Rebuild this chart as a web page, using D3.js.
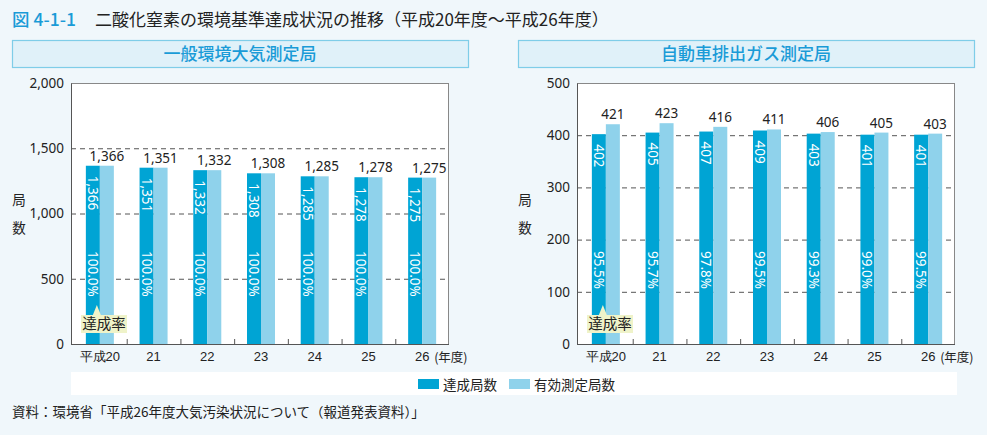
<!DOCTYPE html>
<html><head><meta charset="utf-8">
<script src="https://cdn.jsdelivr.net/npm/d3@7"></script>
<style>
body{margin:0;background:#f0f7fb;}
svg{display:block;font-family:"Noto Sans CJK JP","Noto Sans",sans-serif;}
</style></head>
<body><svg id="c" width="987" height="435"></svg>
<script>
const categories = ["平成20","21","22","23","24","25","26"];
const generalAchieved = [1366,1351,1332,1308,1285,1278,1275];
const generalValid = [1366,1351,1332,1308,1285,1278,1275];
const generalRate = ["100.0%","100.0%","100.0%","100.0%","100.0%","100.0%","100.0%"];
const roadAchieved = [402,405,407,409,403,401,401];
const roadValid = [421,423,416,411,406,405,403];
const roadRate = ["95.5%","95.7%","97.8%","99.5%","99.3%","99.0%","99.5%"];
const generalTicks = [0,500,1000,1500,2000];
const roadTicks = [0,100,200,300,400,500];
const seriesNames = ["達成局数","有効測定局数"];

const DARK="#00a4d4", LIGHT="#8fd2eb", BLUE="#1a9bd7";
const svg=d3.select("#c");
const fmt=d3.format(",");

// title
const t=svg.append("text").attr("x",12).attr("y",26).attr("font-size",17.5);
t.append("tspan").attr("fill",BLUE).attr("font-weight",500).text("図 4-1-1");
t.append("tspan").attr("x",95).attr("fill","#222").attr("font-size",17).text("二酸化窒素の環境基準達成状況の推移（平成20年度～平成26年度）");

function panel(ox, title, achieved, valid, rate, ticks, ymax){
  // header
  svg.append("rect").attr("x",ox+12.5).attr("y",40.5).attr("width",456).attr("height",27)
    .attr("fill","#e0f1f9").attr("stroke","#7fcde8").attr("stroke-width",1.2);
  svg.append("text").attr("x",ox+240).attr("y",60).attr("text-anchor","middle")
    .attr("font-size",17).attr("font-weight",500).attr("fill",BLUE).text(title);
  const left=ox+71, right=ox+449, top=83, bottom=344;
  svg.append("rect").attr("x",left).attr("y",top).attr("width",right-left).attr("height",bottom-top).attr("fill","#fff");
  const x=d3.scaleBand().domain(categories).range([left+2,right]);
  const y=d3.scaleLinear().domain([0,ymax]).range([bottom,top]);
  // grid
  svg.append("g").selectAll("line").data(ticks.filter(d=>d>0&&d<ymax)).join("line")
    .attr("x1",left).attr("x2",right).attr("y1",d=>y(d)+.5).attr("y2",d=>y(d)+.5)
    .attr("stroke","#555").attr("stroke-dasharray","5,4");
  // frame
  svg.append("rect").attr("x",left+.5).attr("y",top+.5).attr("width",right-left-1).attr("height",bottom-top)
    .attr("fill","none").attr("stroke","#888");
  // y axis
  const ya=svg.append("g").attr("transform",`translate(${left},0)`)
    .call(d3.axisLeft(y).tickValues(ticks).tickFormat(fmt).tickSize(0).tickPadding(7));
  ya.select(".domain").attr("stroke","#555");
  ya.selectAll("text").attr("font-size",13.5).attr("fill","#222").attr("font-family","Noto Sans, sans-serif");
  // x axis
  const xa=svg.append("g").attr("transform",`translate(0,${bottom})`)
    .call(d3.axisBottom(x).tickSize(0).tickPadding(8));
  xa.select(".domain").remove();
  xa.selectAll("text").attr("font-size",13).attr("fill","#222");
  svg.append("line").attr("x1",left).attr("x2",right).attr("y1",bottom+.5).attr("y2",bottom+.5).attr("stroke","#555").attr("stroke-width",1.2);
  svg.append("g").selectAll("line").data(categories.slice(1)).join("line")
    .attr("x1",d=>x(d)+.5).attr("x2",d=>x(d)+.5).attr("y1",bottom).attr("y2",bottom-5).attr("stroke","#555");
  svg.append("text").attr("x",x("26")+x.bandwidth()/2+12).attr("y",bottom+18).attr("font-size",12.5).attr("fill","#222").text("(年度)");
  // y title
  svg.append("text").attr("x",ox+19).attr("y",205).attr("text-anchor","middle").attr("font-size",13.5).attr("fill","#222").text("局");
  svg.append("text").attr("x",ox+19).attr("y",233).attr("text-anchor","middle").attr("font-size",13.5).attr("fill","#222").text("数");
  const bw=14;
  const cx=d=>x(d)+x.bandwidth()/2;
  svg.append("g").selectAll("rect").data(categories).join("rect")
    .attr("x",d=>cx(d)-bw).attr("width",bw).attr("y",(d,i)=>y(achieved[i])).attr("height",(d,i)=>bottom-y(achieved[i])).attr("fill",DARK);
  svg.append("g").selectAll("rect").data(categories).join("rect")
    .attr("x",d=>cx(d)).attr("width",bw).attr("y",(d,i)=>y(valid[i])).attr("height",(d,i)=>bottom-y(valid[i])).attr("fill",LIGHT);
  // top labels
  svg.append("g").selectAll("text").data(categories).join("text")
    .attr("x",d=>cx(d)+7).attr("y",(d,i)=>y(valid[i])-5).attr("text-anchor","middle")
    .attr("font-size",13.5).attr("fill","#222").attr("font-family","Noto Sans, sans-serif").text((d,i)=>fmt(valid[i]));
  // inside rotated labels
  svg.append("g").selectAll("text").data(categories).join("text")
    .attr("transform",(d,i)=>`translate(${cx(d)-bw/2},${y(achieved[i])+10}) rotate(90)`)
    .attr("dominant-baseline","central").attr("font-size",13.5).attr("fill","#fff").attr("font-family","Noto Sans, sans-serif")
    .text((d,i)=>fmt(achieved[i]));
  svg.append("g").selectAll("text").data(categories).join("text")
    .attr("transform",d=>`translate(${cx(d)-bw/2},${251}) rotate(90)`)
    .attr("dominant-baseline","central").attr("font-size",13.5).attr("fill","#fff").attr("font-family","Noto Sans, sans-serif")
    .text((d,i)=>rate[i]);
  // callout
  const px=cx(categories[0])-bw/2+4;
  svg.append("path").attr("d",`M${ox+81},315 H${px-4} L${px},305 L${px+4},315 H${ox+127} V333 H${ox+81} Z`).attr("fill","#eff3c9");
  svg.append("text").attr("x",ox+104).attr("y",329).attr("text-anchor","middle").attr("font-size",14.5).attr("fill","#222").text("達成率");
}
panel(0,"一般環境大気測定局",generalAchieved,generalValid,generalRate,generalTicks,2000);
panel(506,"自動車排出ガス測定局",roadAchieved,roadValid,roadRate,roadTicks,500);

// legend
svg.append("rect").attr("x",71).attr("y",372).attr("width",886).attr("height",23).attr("fill","#fff");
const lx=[418,509];
seriesNames.forEach((n,i)=>{
  svg.append("rect").attr("x",lx[i]).attr("y",379).attr("width",21).attr("height",10).attr("fill",i?LIGHT:DARK);
  svg.append("text").attr("x",lx[i]+25).attr("y",389.5).attr("font-size",13.5).attr("fill","#222").text(n);
});
svg.append("text").attr("x",12).attr("y",417).attr("font-size",13.5).attr("fill","#222").text("資料：環境省「平成26年度大気汚染状況について（報道発表資料）」");
</script></body></html>
